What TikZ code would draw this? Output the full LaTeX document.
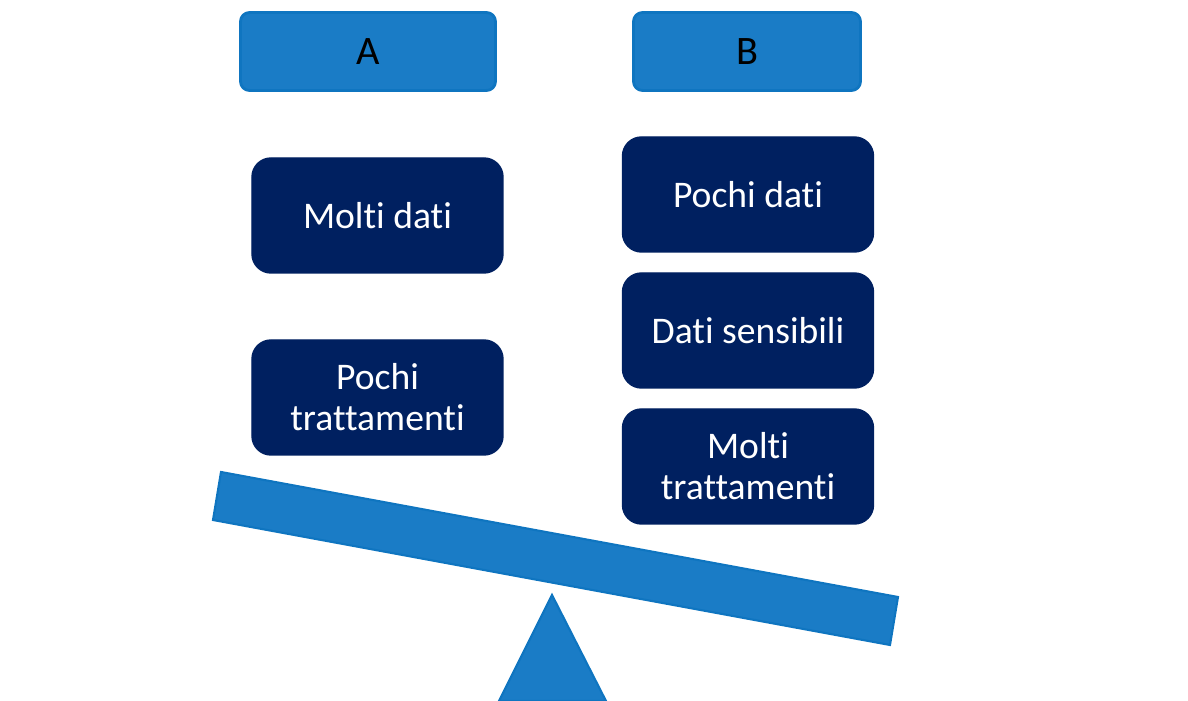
\documentclass[tikz,border=0pt]{standalone}
\usepackage{fontspec}
\setmainfont[Ligatures=NoCommon]{Carlito}
\usetikzlibrary{positioning}
\definecolor{barblue}{HTML}{1A7CC6}
\definecolor{lineblue}{HTML}{0F75C0}
\definecolor{darkblue}{HTML}{002060}

\begin{document}
\begin{tikzpicture}
\tikzstyle{header}=[rectangle,rounded corners=0.9mm,
inner sep=0pt,outer sep=0pt,line width=0.8pt,
draw=lineblue,fill=barblue,text=black,minimum height=7.8mm,
font=\fontsize{11.5}{13}\selectfont]
\tikzstyle{item}=[rectangle,rounded corners=1.9mm,
inner sep=0pt,outer sep=0pt,node distance = 13.6mm,
draw=darkblue,fill=darkblue,text=white,align=center,
minimum width=25.1mm,minimum height=11.5mm,
font=\fontsize{10.7}{11.7}\selectfont]
\useasboundingbox (0,0) rectangle (11.88,7.01);
\node[header,minimum width=25.5mm] at (3.68,6.495) (a) {A};
\node[header,minimum width=22.7mm] at (7.47,6.495) (b) {B};

\node[item] at (3.775,4.855) (moltidati) {Molti dati};
\node[item,below of =moltidati,yshift=-4.6mm] (pochitratt) {Pochi\\trattamenti};
\node[item] at (7.48,5.065) (pochidati) {Pochi dati};
\node[item,below of =pochidati] (sensibili) {Dati sensibili};
\node[item,below of =sensibili] (moltitratt) {Molti\\trattamenti};

\draw[draw=lineblue,fill=barblue,line width=0.6pt] (2.21,2.29) -- (8.98,1.04) -- (8.90,0.56) -- (2.13,1.81) -- cycle;
\draw[draw=lineblue,fill=barblue,line width=0.6pt] (5.52,1.06) -- (6.06,0) -- (4.99,0) -- cycle;

\end{tikzpicture}
\end{document}
